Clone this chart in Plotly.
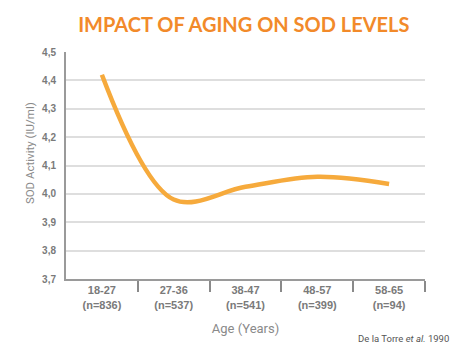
import plotly.graph_objects as go

categories = ["18-27", "27-36", "38-47", "48-57", "58-65"]
sample_sizes = ["(n=836)", "(n=537)", "(n=541)", "(n=399)", "(n=94)"]
sod_values = [4.42, 3.98, 4.025, 4.06, 4.035]
y_ticks = [3.7, 3.8, 3.9, 4.0, 4.1, 4.2, 4.3, 4.4, 4.5]

positions = list(range(len(categories)))
tick_text = [f"{c}<br>{n}" for c, n in zip(categories, sample_sizes)]
boundaries = [p + 0.5 for p in positions]

fig = go.Figure()
fig.add_trace(go.Scatter(
    x=positions, y=sod_values, mode="lines",
    line=dict(color="#F6AA3C", width=4.5, shape="spline", smoothing=1.0),
    hoverinfo="skip", showlegend=False,
))

gray = "#7a7a7a"
cond = "Roboto, sans-serif"
fig.update_layout(
    width=466, height=349,
    margin=dict(l=58, r=49, t=44, b=78),
    paper_bgcolor="white", plot_bgcolor="white",
    separators=", ",
    title=dict(
        text="IMPACT OF AGING ON SOD LEVELS",
        x=0.506, xanchor="center", y=0.951, yanchor="middle",
        font=dict(family="Lato, Open Sans, sans-serif", size=20, color="#F28A2A", weight="bold"),
    ),
    xaxis=dict(
        range=[-0.5, len(categories) - 0.5],
        tickmode="array", tickvals=positions, ticktext=tick_text,
        ticks="", showgrid=False, zeroline=False,
        showline=True, linecolor="#9a9a9a", linewidth=2,
        tickfont=dict(family="Liberation Sans, Arial, sans-serif", size=11, color=gray, weight="bold"),
        minor=dict(tickmode="array", tickvals=boundaries, ticks="outside",
                   ticklen=11, tickwidth=1.5, tickcolor="#8a8a8a", showgrid=False),
        title=dict(text="Age (Years)", standoff=14,
                   font=dict(family=cond, size=13, color="#8a8a8a")),
        fixedrange=True,
    ),
    yaxis=dict(
        range=[3.7, 4.5], tickmode="array", tickvals=y_ticks, tickformat=".1f",
        showgrid=True, gridcolor="#dedede", gridwidth=1.5,
        zeroline=False, showline=True, linecolor="#9a9a9a", linewidth=2,
        ticks="", ticklabelstandoff=6,
        tickfont=dict(family="Liberation Sans, Arial, sans-serif", size=10, color=gray, weight="bold"),
        fixedrange=True,
    ),
    annotations=[
        dict(text="SOD Activity (IU/ml)", textangle=-90, xref="paper", yref="paper",
             x=-0.100, y=0.555, xanchor="center", yanchor="middle", showarrow=False,
             font=dict(family=cond, size=11.5, color="#8a8a8a")),
        dict(text="De la Torre <i>et al.</i> 1990", xref="paper", yref="paper",
             x=1.072, y=-0.264, xanchor="right", yanchor="middle", showarrow=False,
             font=dict(family=cond, size=9.5, color="#555555")),
    ],
)

fig.write_html("out.html")
